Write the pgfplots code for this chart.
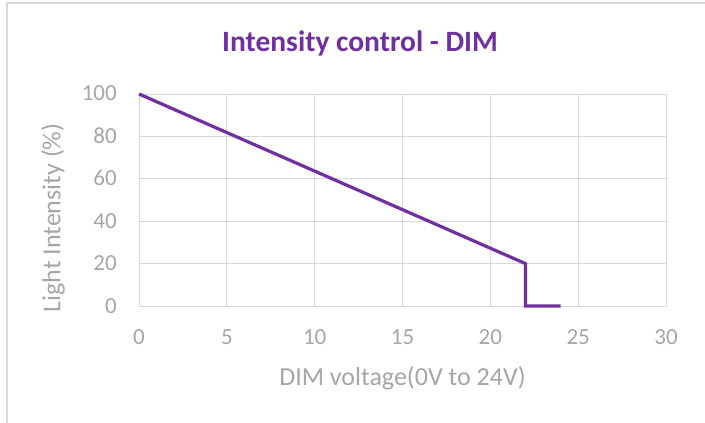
\documentclass[border=0pt]{standalone}
\usepackage{pgfplots}
\pgfplotsset{compat=1.18}
\usepackage{fontspec}
\setmainfont{Carlito}
\definecolor{dimpurple}{HTML}{7030A0}
\definecolor{gridgray}{HTML}{D9D9D9}
\definecolor{txtgray}{HTML}{A6A6A6}
\begin{document}
\begin{tikzpicture}
\path[use as bounding box] (-139bp,-117bp) rectangle (566bp,306bp);
\draw[gridgray, line width=1.5bp] (-132bp,-130bp) -- (-132bp,303bp) -- (580bp,303bp);
\begin{axis}[
  at={(0,0)}, anchor=origin,
  scale only axis, width=527bp, height=212bp,
  xmin=0, xmax=30, ymin=0, ymax=100,
  xtick={0,5,...,30}, ytick={0,20,...,100},
  grid=major,
  major grid style={gridgray, line width=0.9bp},
  axis line style={draw=none},
  tick style={draw=none},
  /pgf/number format/assume math mode=true,
  tick label style={font=\fontsize{23bp}{26bp}\selectfont, text=txtgray, inner sep=0pt},
  xticklabel style={anchor=base, yshift=-38bp},
  yticklabel style={anchor=base east, xshift=-22bp, yshift=-7bp},
  clip=false,
]
\addplot[dimpurple, line width=3.2bp, line join=miter] coordinates {(0,100) (22,20) (22,0) (24,0)};
\end{axis}
\node[font=\fontsize{29.5bp}{34bp}\selectfont\bfseries, text=dimpurple, anchor=base, inner sep=0pt] at (221bp,254bp) {Intensity control - DIM};
\node[font=\fontsize{26bp}{30bp}\selectfont, text=txtgray, anchor=base, inner sep=0pt] at (263.5bp,-79bp) {DIM voltage(0V to 24V)};
\node[font=\fontsize{26bp}{30bp}\selectfont, text=txtgray, rotate=90, inner sep=0pt] at (-86bp,88bp) {Light Intensity (\%)};
\end{tikzpicture}
\end{document}
